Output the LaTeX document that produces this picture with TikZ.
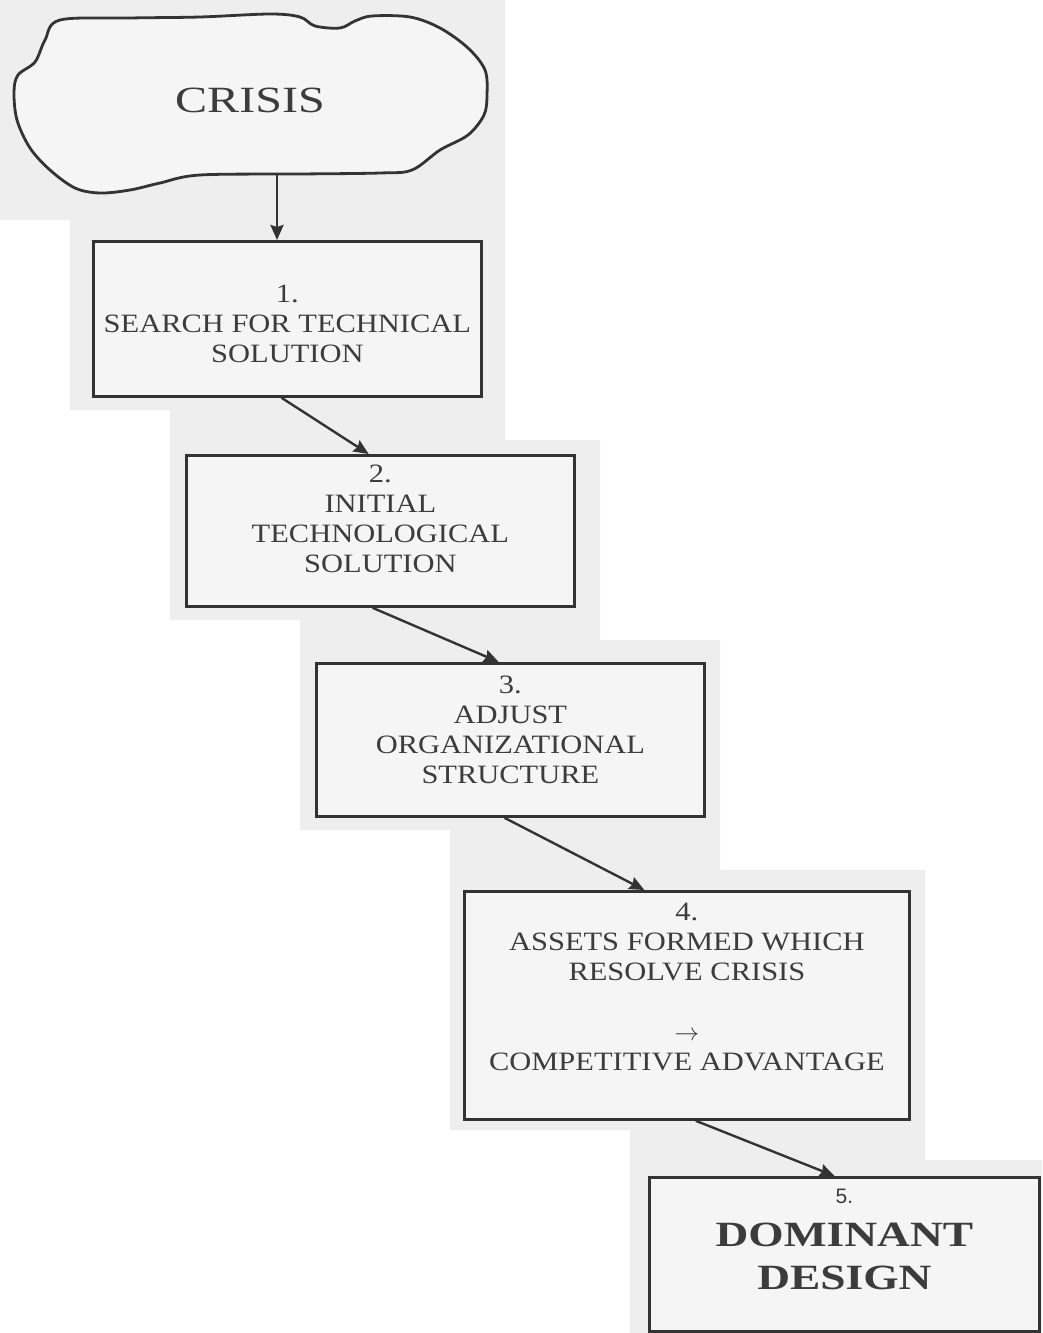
\documentclass[tikz,border=0pt]{standalone}
\usepackage{fontspec}
\setmainfont{Liberation Serif}
\newfontfamily\bodyfont[FakeStretch=1.15]{Liberation Serif}
\newfontfamily\crisisfont[FakeStretch=1.3]{Liberation Serif}
\newfontfamily\domfont[FakeStretch=1.28]{Liberation Serif}
\newfontfamily\numsans{Liberation Sans}
\usetikzlibrary{arrows.meta,calc}
\definecolor{inkc}{HTML}{333333}
\definecolor{txtc}{HTML}{3C3C3C}
\definecolor{paper}{HTML}{EEEEEE}
\begin{document}
\begin{tikzpicture}[x=1pt,y=-1pt,
  ink/.style={draw=inkc, line width=2.8pt},
  stepbox/.style={ink, fill=paper!60, inner sep=0pt, anchor=north west},
  flow/.style={inkc, line width=2.4pt, -{Stealth[length=15pt,width=13pt,inset=2pt]}},
  txt/.style={font=\bodyfont\fontsize{26.5}{30}\selectfont, text=txtc, align=center},
  domtxt/.style={font=\domfont\bfseries\fontsize{35.5}{43}\selectfont, text=txtc, align=center},
]
\useasboundingbox (0,0) rectangle (1042,1333);
\fill[white] (0,0) rectangle (1042,1333);
\fill[paper] (0,0) -- (505,0) -- (505,440) -- (600,440) -- (600,640) -- (720,640) -- (720,870)
  -- (925,870) -- (925,1160) -- (1042,1160) -- (1042,1333) -- (630,1333) -- (630,1130)
  -- (450,1130) -- (450,830) -- (300,830) -- (300,620) -- (170,620) -- (170,410)
  -- (70,410) -- (70,220) -- (0,220) -- cycle;

% cloud
\draw[ink, fill=paper!60, line join=round] plot[smooth cycle, tension=0.55] coordinates {
  (60,20) (130,18) (200,17) (270,14) (300,17) (315,26) (340,28) (355,21) (372,16) (410,17)
  (440,28) (468,48) (485,70) (487,95) (484,115) (468,135) (440,150) (412,170) (380,173)
  (300,174) (200,175) (160,183) (130,190) (100,193) (75,188) (50,170) (30,148) (17,120)
  (14,92) (18,75) (35,62) (45,40)};
\node[text=txtc, font=\crisisfont\fontsize{37}{40}\selectfont] (crisis) at (250,100) {CRISIS};
\coordinate (cloudbot) at (277,175);

% boxes
\node[stepbox, minimum width=388pt, minimum height=155pt,
  label={[txt, yshift=-5pt]center:{1.\\SEARCH FOR TECHNICAL\\SOLUTION}}] (b1) at (92,240) {};
\node[stepbox, minimum width=388pt, minimum height=151pt,
  label={[txt, yshift=12pt]center:{2.\\INITIAL\\TECHNOLOGICAL\\SOLUTION}}] (b2) at (185,454) {};
\node[stepbox, minimum width=388pt, minimum height=153pt,
  label={[txt, yshift=10pt]center:{3.\\ADJUST\\ORGANIZATIONAL\\STRUCTURE}}] (b3) at (315,662) {};
\node[stepbox, minimum width=445pt, minimum height=228pt,
  label={[txt, yshift=18pt]center:{4.\\ASSETS FORMED WHICH\\RESOLVE CRISIS\\[30pt]$\rightarrow$\\COMPETITIVE ADVANTAGE}}] (b4) at (463,890) {};
\node[stepbox, minimum width=390pt, minimum height=154pt,
  label={[domtxt, yshift=15pt]center:{{\numsans\mdseries\fontsize{21}{24}\selectfont 5.}\\DOMINANT\\DESIGN}}] (b5) at (648,1176) {};

% connectors
\draw[flow] (cloudbot) -- (cloudbot |- b1.north);
\draw[flow] ($(b1.south west)!0.485!(b1.south east)$) -- ($(b2.north west)!0.47!(b2.north east)$);
\draw[flow] ($(b2.south west)!0.48!(b2.south east)$) -- ($(b3.north west)!0.47!(b3.north east)$);
\draw[flow] ($(b3.south west)!0.485!(b3.south east)$) -- ($(b4.north west)!0.405!(b4.north east)$);
\draw[flow] ($(b4.south west)!0.52!(b4.south east)$) -- ($(b5.north west)!0.475!(b5.north east)$);
\end{tikzpicture}
\end{document}
